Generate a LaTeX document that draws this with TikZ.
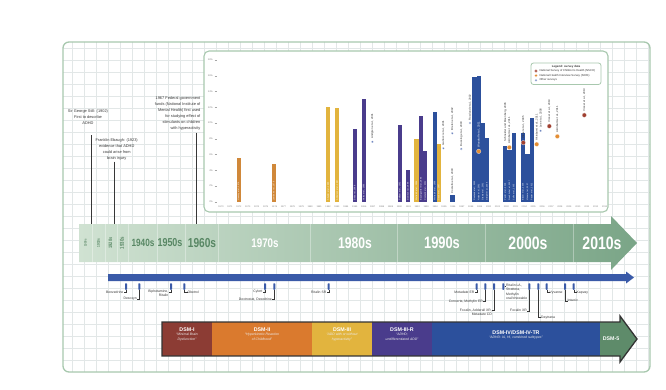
\documentclass[tikz,border=0pt]{standalone}
\usepackage{fontspec}
\setmainfont{Liberation Sans}
\newfontfamily\decfont[FakeStretch=0.78]{Liberation Sans}
\usetikzlibrary{positioning}
\newcommand{\tsize}[1]{\fontsize{#1}{#1}\selectfont}
\definecolor{panelgreen}{RGB}{168,200,174}
\definecolor{gridgray}{RGB}{226,231,231}
\definecolor{tlA}{RGB}{208,226,210}
\definecolor{tlB}{RGB}{122,165,135}
\definecolor{decgreen}{RGB}{88,135,100}
\definecolor{notegray}{RGB}{55,55,55}
\definecolor{c70}{RGB}{208,136,58}
\definecolor{c80}{RGB}{226,180,62}
\definecolor{cpurple}{RGB}{74,60,140}
\definecolor{cblue}{RGB}{44,80,156}
\definecolor{nsch}{RGB}{160,64,48}
\definecolor{nhis}{RGB}{228,142,52}
\definecolor{dsmred}{RGB}{140,60,52}
\definecolor{dsmorange}{RGB}{218,122,46}
\definecolor{dsmgreen}{RGB}{94,139,106}
\definecolor{tlblue}{RGB}{58,90,168}
\tikzstyle{gridline} = [draw=gridgray, line width=0.5pt]
\tikzstyle{panel} = [draw=panelgreen, line width=1.3pt, rounded corners=6pt]
\tikzstyle{chartpanel} = [draw=panelgreen, line width=1.1pt, fill=white, rounded corners=5pt]
\tikzstyle{pctlab} = [font=\tsize{2.4}, text=gray, anchor=east, inner sep=0pt]
\tikzstyle{yearlab} = [font=\tsize{2.3}, text=gray, inner sep=0pt]
\tikzstyle{barlab} = [font=\tsize{2.1}, text=white, rotate=90, anchor=west, inner sep=0pt]
\tikzstyle{marklab} = [font=\tsize{2.8}, text=notegray, rotate=90, anchor=west, inner sep=0pt]
\tikzstyle{srvdot} = [circle, inner sep=0pt, draw=white, line width=0.2pt]
\tikzstyle{legtxt} = [font=\tsize{2.8}, text=notegray, anchor=west, inner sep=0pt]
\tikzstyle{decade} = [inner sep=0pt]
\tikzstyle{note} = [font=\fontsize{3.9}{6}\selectfont, text=notegray, align=center, inner sep=0pt]
\tikzstyle{noteline} = [draw=notegray, line width=0.6pt]
\tikzstyle{pill} = [fill=tlblue, rounded corners=0.6pt, minimum width=2pt, minimum height=6.5pt, inner sep=0pt]
\tikzstyle{drug} = [font=\fontsize{3.4}{4.3}\selectfont, text=notegray, inner sep=0pt]
\tikzstyle{pilllink} = [draw=notegray, line width=0.35pt]
\tikzstyle{dsmline} = [draw=black!80, line width=1.3pt, line join=miter]
\tikzstyle{dsmtitle} = [font=\bfseries\tsize{5.3}, text=white, inner sep=0pt]
\tikzstyle{dsmsub} = [font=\itshape\fontsize{3.4}{4.6}\selectfont, text=white!92!black, align=center, inner sep=0pt]

\begin{document}
\begin{tikzpicture}[x=1pt, y=-1pt, node distance=4.6pt]
    \useasboundingbox (0,0) rectangle (666,390);

    % outer panel with grid
    \begin{scope}
        \clip[rounded corners=6pt] (63,42) rectangle (650,372);
        \draw[gridline, step=12pt] (60,38) grid (654,376);
    \end{scope}
    \draw[panel] (63,42) rectangle (650,372);

    % prevalence chart
    \filldraw[chartpanel] (204,51) rectangle (608,212);
    \foreach \p in {0,2,...,18} {
        \node[pctlab] (pct\p) at (213,{201.7-\p*7.87}) {\p\%};
        \draw[gray!70, line width=0.3pt] (pct\p.east) ++(1.5,0) -- ++(2,0);
    }
    \foreach \y in {1970,...,2013}
        \node[yearlab] (yr\y) at ({221+(\y-1970)*8.92},206.5) {\y};

    \foreach \l/\r/\v/\c/\t [count=\i] in {
        236.7/240.7/5.5/c70/{Huessy et al., 1974},
        271.7/276/4.8/c70/{Lambert et al., 1978},
        326/330.3/12.0/c80/{Shekim et al., 1985},
        335/339.3/11.9/c80/{Anderson et al., 1987},
        352.7/357/9.2/cpurple/{Bird et al., 1988},
        361.7/365.7/13.0/cpurple/{Velez et al., 1989},
        397.7/401.7/9.7/cpurple/{Pelham et al., 1992},
        406/410/4.0/cpurple/{Gomez et al., 1999},
        414.3/418.7/8.0/c80/{Wolraich et al., 1996},
        419/423/10.9/cpurple/{Baumgaertel et al., 1995},
        423/427.3/6.5/cpurple/{Rowland et al., 2001},
        432.7/436.7/11.4/cblue/{Wolraich et al., 1998},
        436.7/441/7.3/c80/{Gaub et al., 1997},
        450/454.7/0.85/cblue/{},
        472.3/476.7/15.8/cblue/{Rowland et al., 2002},
        476.7/480.7/16.0/cblue/{Nolan et al., 2001},
        480.7/485/10.0/cblue/{Graetz et al., 2001},
        485/489.3/8.05/cblue/{Gimpel et al., 2005},
        503.3/507.3/7.1/cblue/{Pastor et al., 2008},
        507.3/511.7/6.6/cblue/{Froehlich et al., 2007},
        511.7/516/8.7/cblue/{Cuffe et al., 2005},
        520.7/525.3/8.7/cblue/{Bloom et al., 2006},
        525.3/529.7/6.1/cblue/{Visser et al., 2007},
        529.7/534/10.6/cblue/{Pastor et al., 2012}} {
        \fill[\c] (\l,201.7) rectangle (\r,{201.7-\v*7.87});
        \node[barlab] (bar\i) at ({(\l+\r)/2},200.6) {\t};
    }
    \node[marklab] (costello) at (452.3,193.5) {Costello et al., 2003};
    \node[marklab] (schneider) at (505.3,142) {Schneider and Eisenberg, 2006};

    \foreach \x/\v/\c/\s/\t/\tc [count=\i] in {
        372.3/7.6/tlblue/2.2pt/{Lindgren et al., 2001}/notegray,
        443.3/6.8/tlblue/2.2pt/{Gallucci et al., 2001}/notegray,
        452.3/8.7/tlblue/2.2pt/{Breton et al., 2002}/notegray,
        461.3/6.7/tlblue/2.2pt/{Bussing et al., 2003}/notegray,
        470/10.0/tlblue/2.2pt/{Rowland et al., 2002}/notegray,
        478.7/6.4/nhis/4.5pt/{Woodruff et al., 2011}/white,
        509.3/6.9/nhis/4.5pt/{Akinbami et al., 2011}/notegray,
        523.3/7.5/nsch/4.5pt/{Visser et al., 2005}/notegray,
        536.7/7.3/nhis/4.5pt/{Akinbami et al., 2011}/notegray,
        540.7/9.0/tlblue/2.2pt/{Lee et al., 2008}/notegray,
        549.3/9.6/nsch/4.5pt/{Visser et al., 2010}/notegray,
        557.3/8.3/nhis/4.5pt/{Akinbami et al., 2011}/notegray,
        584.3/11.0/nsch/4.5pt/{Visser et al., 2013}/notegray} {
        \node[srvdot, fill=\c, minimum size=\s] (m\i) at (\x,{201.7-\v*7.87}) {};
        \node[marklab, text=\tc] (ml\i) at ([yshift=1.5pt]m\i.north) {\t};
    }

    % legend
    \filldraw[chartpanel, line width=0.8pt, rounded corners=2.5pt] (531,63) rectangle (601,84.5);
    \node[font=\bfseries\tsize{2.9}, text=notegray, inner sep=0pt] (legtitle) at (566,66.5) {Legend: survey data};
    \node[srvdot, fill=nsch, minimum size=3.2pt] (ld1) at (536,71) {};
    \node[srvdot, fill=nhis, minimum size=3.2pt, below of=ld1] (ld2) {};
    \node[srvdot, fill=tlblue, minimum size=2.2pt, below of=ld2] (ld3) {};
    \node[legtxt, right=1.6pt of ld1] (lt1) {National Survey of Children's Health (NSCH)};
    \node[legtxt, right=1.6pt of ld2] (lt2) {National Health Interview Survey (NHIS)};
    \node[legtxt, right=2.1pt of ld3] (lt3) {Other surveys};

    % decades arrow
    \shade[left color=tlA, right color=tlB] (79,224) -- (611,224) -- (611,216) -- (637,243)
        -- (611,270) -- (611,262) -- (79,262) -- cycle;
    \foreach \s in {92,105,117,128,157,185,218,310,397,485,573}
        \draw[white, opacity=0.35, line width=0.7pt] (\s,224) -- (\s,262);
    \node[decade, rotate=90, text=decgreen] (d1900) at (85.5,243) {\decfont\bfseries\tsize{3.3}1900s};
    \node[decade, rotate=90, text=decgreen] (d1910) at (98.5,243) {\decfont\bfseries\tsize{4}1910s};
    \node[decade, rotate=90, text=decgreen] (d1920) at (110.5,243) {\decfont\bfseries\tsize{5}1920s};
    \node[decade, rotate=90, text=decgreen] (d1930) at (122,243) {\decfont\bfseries\tsize{5.6}1930s};
    \node[decade, text=decgreen] (d1940) at (143,243) {\decfont\bfseries\tsize{10.5}1940s};
    \node[decade, text=decgreen] (d1950) at (170,243) {\decfont\bfseries\tsize{11.5}1950s};
    \node[decade, text=decgreen] (d1960) at (202,243) {\decfont\bfseries\tsize{13}1960s};
    \node[decade, text=white] (d1970) at (265,243) {\decfont\bfseries\tsize{12.5}1970s};
    \node[decade, text=white] (d1980) at (355,243) {\decfont\bfseries\tsize{15.5}1980s};
    \node[decade, text=white] (d1990) at (442,243) {\decfont\bfseries\tsize{16.5}1990s};
    \node[decade, text=white] (d2000) at (528,243) {\decfont\bfseries\tsize{18}2000s};
    \node[decade, text=white] (d2010) at (602,243) {\decfont\bfseries\tsize{18}2010s};

    % milestones
    \node[note] (still) at (88,117.5) {Sir George Still: (1902)\\First to describe\\ADHD};
    \node[note] (ebaugh) at (116.7,149.5) {Franklin Ebaugh: (1923)\\evidence that ADHD\\could arise from\\brain injury};
    \node[note, align=right, anchor=north east] (nimh) at (200.5,96.5) {1967 Federal government\\funds (National Institute of\\Mental Health) first used\\for studying effect of\\stimulants on children\\with hyperactivity};
    \coordinate (stillend) at (91,224);
    \coordinate (ebaughend) at (114.3,224);
    \coordinate (nimhend) at (196,224);
    \draw[noteline, shorten <=10pt] (still.south -| stillend) -- (stillend);
    \draw[noteline, shorten <=1pt] (ebaugh.south -| ebaughend) -- (ebaughend);
    \draw[noteline, shorten <=2pt] (nimh.south -| nimhend) -- (nimhend);

    % medication arrow
    \fill[tlblue] (108,274) -- (626,274) -- (626,271.5) -- (634,277.5) -- (626,283.5)
        -- (626,281) -- (108,281) -- cycle;
    \foreach \x [count=\i] in {126,139.3,171,184.3,265,274.3,328.7,476.7,485.3,494,503.3,529.3,538.3,546.7,565,573.7}
        \node[pill] (p\i) at (\x,286.5) {};

    \node[drug, anchor=east] (d1) at (123.5,292) {Benzedrine};
    \node[drug, anchor=east] (d2) at (137,299) {Desoxyn};
    \node[drug, anchor=north east, align=right] (d3) at (168.5,289.8) {Biphetamine,\\Ritalin};
    \node[drug, anchor=west] (d4) at (187.5,292) {Obetrol};
    \node[drug, anchor=east] (d5) at (262.5,292) {Cylert};
    \node[drug, anchor=east] (d6) at (272,299) {Dextrostat, Dexedrine};
    \node[drug, anchor=east] (d7) at (326.5,292) {Ritalin SR};
    \node[drug, anchor=east] (d8) at (474.5,292) {Metadate ER};
    \node[drug, anchor=east] (d9) at (483,301.5) {Concerta, Methylin ER};
    \node[drug, anchor=north east, align=right] (d10) at (492,308.6) {Focalin, Adderall XR,\\Metadate CD};
    \node[drug, anchor=north west, align=left] (d11) at (506,283.8) {Ritalin LA,\\Strattera,\\Methylin\\oral/chewable};
    \node[drug, anchor=east] (d12) at (527,310.7) {Focalin XR};
    \node[drug, anchor=west] (d13) at (541,317.3) {Daytrana};
    \node[drug, anchor=west] (d14) at (549.5,292.3) {Vyvanse};
    \node[drug, anchor=west] (d15) at (567.5,300.7) {Intuniv};
    \node[drug, anchor=west] (d16) at (576.5,292.3) {Kapvay};

    \foreach \i in {1,2,5,6,7,8,9,12}
        \draw[pilllink] (p\i.south) |- (d\i.east);
    \foreach \i in {4,13,14,15,16}
        \draw[pilllink] (p\i.south) |- (d\i.west);
    \draw[pilllink] (p3.south) |- ([yshift=-2pt]d3.north east);
    \draw[pilllink] (p10.south) |- ([yshift=-2pt]d10.north east);
    \draw[pilllink] (p11.east) -- (p11.east -| d11.west);

    % DSM editions
    \fill[dsmred] (162,322) rectangle (212,356);
    \fill[dsmorange] (212,322) rectangle (312,356);
    \fill[c80] (312,322) rectangle (372,356);
    \fill[cpurple] (372,322) rectangle (432,356);
    \fill[cblue] (432,322) rectangle (600,356);
    \fill[dsmgreen] (600,322) -- (620,322) -- (620,316) -- (637,339) -- (620,362) -- (620,356)
        -- (600,356) -- cycle;
    \draw[dsmline] (162,322) -- (620,322) -- (620,316) -- (637,339) -- (620,362) -- (620,356)
        -- (162,356) -- cycle;

    \node[dsmtitle] (dsm1) at (187,330) {DSM-I};
    \node[dsmsub, below=1pt of dsm1] (dsm1s) {``Minimal Brain\\Dysfunction''};
    \node[dsmtitle] (dsm2) at (262,330) {DSM-II};
    \node[dsmsub, below=1pt of dsm2] (dsm2s) {``Hyperkinetic Reaction\\of Childhood''};
    \node[dsmtitle] (dsm3) at (342,330) {DSM-III};
    \node[dsmsub, below=1pt of dsm3] (dsm3s) {``ADD with or without\\hyperactivity''};
    \node[dsmtitle] (dsm3r) at (402,330) {DSM-III-R};
    \node[dsmsub, below=1pt of dsm3r] (dsm3rs) {``ADHD;\\undifferentiated ADD''};
    \node[dsmtitle] (dsm4) at (516,333) {DSM-IV/DSM-IV-TR};
    \node[dsmsub, below=1pt of dsm4] (dsm4s) {``ADHD: IA, HI, combined subtypes''};
    \node[dsmtitle] (dsm5) at (611,339) {DSM-5};
\end{tikzpicture}
\end{document}
